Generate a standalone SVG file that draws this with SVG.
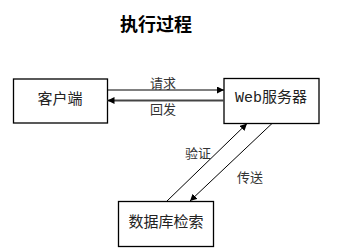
<svg xmlns="http://www.w3.org/2000/svg" width="338" height="250" viewBox="0 0 338 250">
<style>
.box{fill:#fff;stroke:#000;stroke-width:1.3}
.t{font-family:"Liberation Mono","Noto Sans CJK SC",monospace;font-size:15px;fill:#222;text-anchor:middle;dominant-baseline:central}
.lb{font-family:"Noto Sans CJK SC",sans-serif;font-size:13px;fill:#333;text-anchor:middle;dominant-baseline:central}
.ln{stroke:#000;stroke-width:1;fill:none}
</style>
<defs>
<marker id="ah" viewBox="0 0 10 10" refX="10" refY="5" markerWidth="7" markerHeight="7" markerUnits="userSpaceOnUse" orient="auto">
<path d="M0,0 L10,5 L0,10 z" fill="#000"/>
</marker>
</defs>
<text x="156" y="23" font-family="Noto Sans CJK SC,sans-serif" font-size="18" font-weight="bold" text-anchor="middle" dominant-baseline="central" fill="#000">执行过程</text>
<g id="client"><rect class="box" x="13.5" y="79" width="94" height="44"/><text class="t" x="60" y="100">客户端</text></g>
<g id="web"><rect class="box" x="224" y="78.5" width="95" height="45"/><text class="t" x="271" y="98.5">Web服务器</text></g>
<g id="db"><rect class="box" x="118.5" y="201.5" width="95" height="45"/><text class="t" x="166" y="223.5">数据库检索</text></g>
<g id="connectors">
<line class="ln" x1="107.5" y1="90" x2="224" y2="90" marker-end="url(#ah)"/>
<line x1="224" y1="100.5" x2="107.5" y2="100.5" stroke="#444" stroke-width="2" marker-end="url(#ah)"/>
<line class="ln" x1="166.5" y1="201.5" x2="247" y2="123.5" marker-end="url(#ah)"/>
<line class="ln" x1="272" y1="123.5" x2="190" y2="201" marker-end="url(#ah)"/>
<text class="lb" x="163" y="82.5">请求</text>
<text class="lb" x="163" y="108.5">回发</text>
<text class="lb" x="198" y="152.5">验证</text>
<text class="lb" x="250" y="176.5">传送</text>
</g>
</svg>
